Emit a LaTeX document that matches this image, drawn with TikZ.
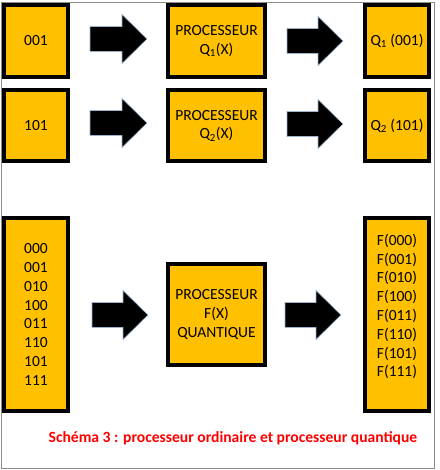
\documentclass[tikz,border=0pt]{standalone}
\usepackage{fontspec}
\setmainfont{Carlito}
\usepackage{tikz}

\definecolor{gold}{HTML}{FFC000}
\definecolor{arrowedge}{HTML}{9DB3CC}
\definecolor{framegray}{HTML}{8C8C8C}

\tikzset{
    box/.style={draw=black, line width=4pt, fill=gold, inner sep=0pt, align=center,
        font=\fontsize{15.5}{18.8}\selectfont},
    boxtext/.style={inner sep=0pt, align=center, font=\fontsize{15.5}{18.8}\selectfont},
    bigarrow/.style={fill=black, draw=arrowedge, line width=0.6pt},
    caption/.style={text=red, font=\fontsize{15.6}{18}\selectfont\bfseries}
}

\begin{document}
\begin{tikzpicture}[x=1pt, y=-1pt]
        \useasboundingbox (0,0) rectangle (439,470);
        \draw[framegray, line width=0.8pt] (1,2.5) rectangle (434,468);

        % Processeur ordinaire, 001
        \node[box, minimum width=64pt, minimum height=72pt] (in1) at (36,41) {001};
        \node[box, minimum width=97pt, minimum height=72pt] (proc1) at (216.5,41) {PROCESSEUR\\Q\textsubscript{1}(X)};
        \node[box, minimum width=64pt, minimum height=72pt] (out1) at (397,41) {Q\textsubscript{1} (001)};
        \filldraw[bigarrow, shift={(90,39)}] (0,-12.5) -- (32,-12.5) -- (32,-24.5) -- (57,0) -- (32,24.5) -- (32,12.5) -- (0,12.5) -- cycle;
        \filldraw[bigarrow, shift={(287,41)}] (0,-12.5) -- (31,-12.5) -- (31,-24.5) -- (56,0) -- (31,24.5) -- (31,12.5) -- (0,12.5) -- cycle;

        % Processeur ordinaire, 101
        \node[box, minimum width=64pt, minimum height=71pt] (in2) at (36,125.5) {101};
        \node[box, minimum width=97pt, minimum height=71pt] (proc2) at (216.5,125.5) {PROCESSEUR\\Q\textsubscript{2}(X)};
        \node[box, minimum width=64pt, minimum height=71pt] (out2) at (397,125.5) {Q\textsubscript{2} (101)};
        \filldraw[bigarrow, shift={(90,123)}] (0,-12.5) -- (32,-12.5) -- (32,-24.5) -- (57,0) -- (32,24.5) -- (32,12.5) -- (0,12.5) -- cycle;
        \filldraw[bigarrow, shift={(287,124)}] (0,-12.5) -- (31,-12.5) -- (31,-24.5) -- (56,0) -- (31,24.5) -- (31,12.5) -- (0,12.5) -- cycle;

        % Processeur quantique
        \node[box, minimum width=64pt, minimum height=193pt] (in3) at (36,314.5) {000\\001\\010\\100\\011\\110\\101\\111};
        \node[box, minimum width=97pt, minimum height=101pt] (proc3) at (216.5,314.5) {PROCESSEUR\\F(X)\\QUANTIQUE};
        \node[box, minimum width=64pt, minimum height=193pt] (out3) at (397,314.5) {};
        \node[boxtext] (out3text) at ([yshift=8pt]out3.center) {F(000)\\F(001)\\F(010)\\F(100)\\F(011)\\F(110)\\F(101)\\F(111)};
        \filldraw[bigarrow, shift={(92,315)}] (0,-12.5) -- (31,-12.5) -- (31,-24.5) -- (56,0) -- (31,24.5) -- (31,12.5) -- (0,12.5) -- cycle;
        \filldraw[bigarrow, shift={(285,315)}] (0,-12.5) -- (31,-12.5) -- (31,-24.5) -- (56,0) -- (31,24.5) -- (31,12.5) -- (0,12.5) -- cycle;

        \node[caption] (legend) at (233,438) {Schéma 3 : processeur ordinaire et processeur quantique};
\end{tikzpicture}
\end{document}
